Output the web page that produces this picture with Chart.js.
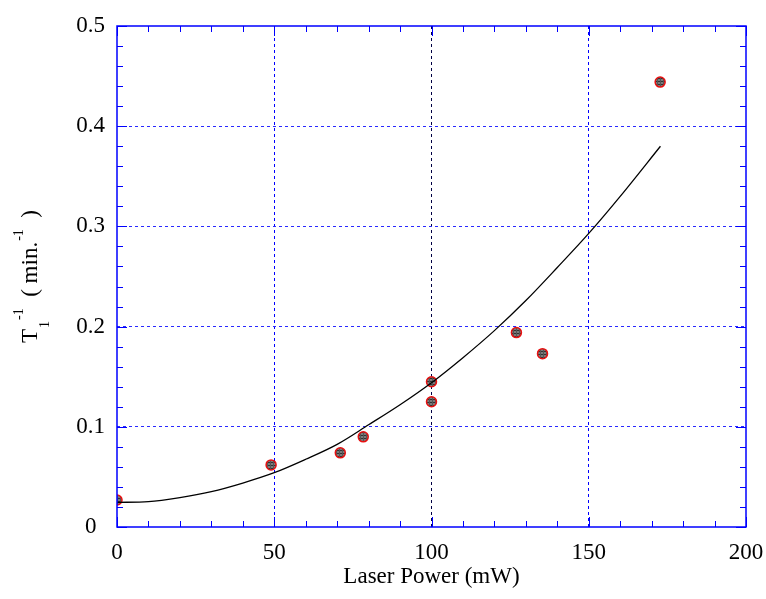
<!DOCTYPE html>
<html>
<head>
<meta charset="utf-8">
<script src="https://cdn.jsdelivr.net/npm/chart.js@4"></script>
<style>
  body { margin: 0; background: #fff; }
  canvas { display: block; }
</style>
</head>
<body>
<canvas id="chart" width="766" height="599"></canvas>
<script>
// measured points
const powerPts = [0, 49, 71, 78.3, 100, 100, 127, 135.3, 172.7];
const rateVals = [0.027, 0.062, 0.074, 0.090, 0.145, 0.125, 0.194, 0.173, 0.444];

// fitted curve
const fitPower = [0, 10, 20, 30, 40, 50, 60, 70, 80, 90, 100, 110, 120, 130, 140, 150, 160, 172.8];
const fitRate = [0.0246, 0.0253, 0.0293, 0.0353, 0.0439, 0.0542, 0.0676, 0.0825, 0.102, 0.122, 0.144, 0.169, 0.196, 0.226, 0.259, 0.293, 0.330, 0.380];

const xTicks = [0, 50, 100, 150, 200];
const yTicks = [0, 0.1, 0.2, 0.3, 0.4, 0.5];

const FONT = '"Liberation Serif", "Times New Roman", serif';
const BLUE = '#0000ff';

// hatched grey fill for the markers
function markerFill() {
  const c = document.createElement('canvas');
  c.width = 3; c.height = 3;
  const g = c.getContext('2d');
  g.fillStyle = '#7a7a7a'; g.fillRect(0, 0, 3, 3);
  g.fillStyle = '#333'; g.fillRect(0, 0, 3, 1);
  g.fillStyle = '#555'; g.fillRect(0, 0, 1, 3);
  return g.createPattern(c, 'repeat');
}

const frame = {
  id: 'frame',
  afterDraw(chart) {
    const ctx = chart.ctx;
    const a = chart.chartArea;
    const xs = chart.scales.x, ys = chart.scales.y;
    ctx.save();
    ctx.strokeStyle = BLUE;
    ctx.lineWidth = 1;
    // minor + major ticks on all four sides, pointing in
    for (let v = 0; v <= 200; v += 10) {
      const px = Math.round(xs.getPixelForValue(v)) + 0.5;
      const len = v % 50 === 0 ? 10 : 6;
      ctx.beginPath();
      ctx.moveTo(px, a.bottom); ctx.lineTo(px, a.bottom - len);
      ctx.moveTo(px, a.top); ctx.lineTo(px, a.top + len);
      ctx.stroke();
    }
    for (let i = 0; i <= 25; i++) {
      const py = Math.round(ys.getPixelForValue(i * 0.02)) + 0.5;
      const len = i % 5 === 0 ? 10 : 6;
      ctx.beginPath();
      ctx.moveTo(a.left, py); ctx.lineTo(a.left + len, py);
      ctx.moveTo(a.right, py); ctx.lineTo(a.right - len, py);
      ctx.stroke();
    }
    ctx.lineWidth = 1.5;
    ctx.strokeRect(a.left, a.top, a.right - a.left, a.bottom - a.top);

    // y axis title: T_1^-1 ( min.^-1 )
    ctx.fillStyle = '#000';
    ctx.translate(37, 343);
    ctx.rotate(-Math.PI / 2);
    ctx.textBaseline = 'alphabetic';
    ctx.textAlign = 'left';
    let p = 0;
    const put = (txt, size, dy, gap) => {
      ctx.font = size + 'px ' + FONT;
      ctx.fillText(txt, p, dy);
      p += ctx.measureText(txt).width + (gap || 0);
    };
    put('T', 23, 0, 1);
    put('1', 14, 12, 1);
    put('-1', 14, -14, 0);
    put('  ( min.', 23, 0, 1);
    put('-1', 14, -14, 0);
    put('  )', 23, 0, 0);
    ctx.restore();
  }
};

new Chart(document.getElementById('chart'), {
  type: 'scatter',
  data: {
    datasets: [
      {
        label: 'fit',
        data: fitPower.map((x, i) => ({ x: x, y: fitRate[i] })),
        showLine: true,
        borderColor: '#000',
        borderWidth: 1.3,
        pointRadius: 0,
        cubicInterpolationMode: 'monotone'
      },
      {
        label: 'data',
        data: powerPts.map((x, i) => ({ x: x, y: rateVals[i] })),
        showLine: false,
        pointRadius: 5,
        pointBackgroundColor: markerFill(),
        pointBorderColor: '#e81010',
        pointBorderWidth: 1.5
      }
    ]
  },
  options: {
    responsive: false,
    animation: false,
    devicePixelRatio: 1,
    layout: { padding: { top: 26, right: 20, left: 0, bottom: 0 } },
    plugins: { legend: { display: false }, tooltip: { enabled: false } },
    scales: {
      x: {
        type: 'linear', min: 0, max: 200,
        afterBuildTicks: s => { s.ticks = xTicks.map(v => ({ value: v })); },
        afterFit: s => { s.height = 72; s.paddingLeft = 0; s.paddingRight = 0; },
        grid: {
          color: c => (c.tick.value === 100 ? '#000044' : (c.tick.value === 0 || c.tick.value === 200 ? 'transparent' : BLUE)),
          lineWidth: 1,
          drawTicks: false
        },
        border: { display: false, dash: [3, 3] },
        ticks: { color: '#000', font: { family: FONT, size: 23 }, padding: 12 },
        title: { display: true, text: 'Laser Power (mW)', color: '#000', font: { family: FONT, size: 23 }, padding: { top: 0, bottom: 8 } }
      },
      y: {
        type: 'linear', min: 0, max: 0.5,
        afterBuildTicks: s => { s.ticks = yTicks.map(v => ({ value: v })); },
        afterFit: s => { s.width = 117; s.paddingTop = 0; s.paddingBottom = 0; },
        grid: {
          color: c => (c.tick.value === 0 || c.tick.value === 0.5 ? 'transparent' : '#2a2aff'),
          lineWidth: 1,
          drawTicks: false
        },
        border: { display: false, dash: [3, 3] },
        ticks: {
          color: '#000', font: { family: FONT, size: 23 }, padding: 12, crossAlign: 'center',
          callback: v => (v === 0 ? '0' : v.toFixed(1))
        }
      }
    }
  },
  plugins: [frame]
});
</script>
</body>
</html>
